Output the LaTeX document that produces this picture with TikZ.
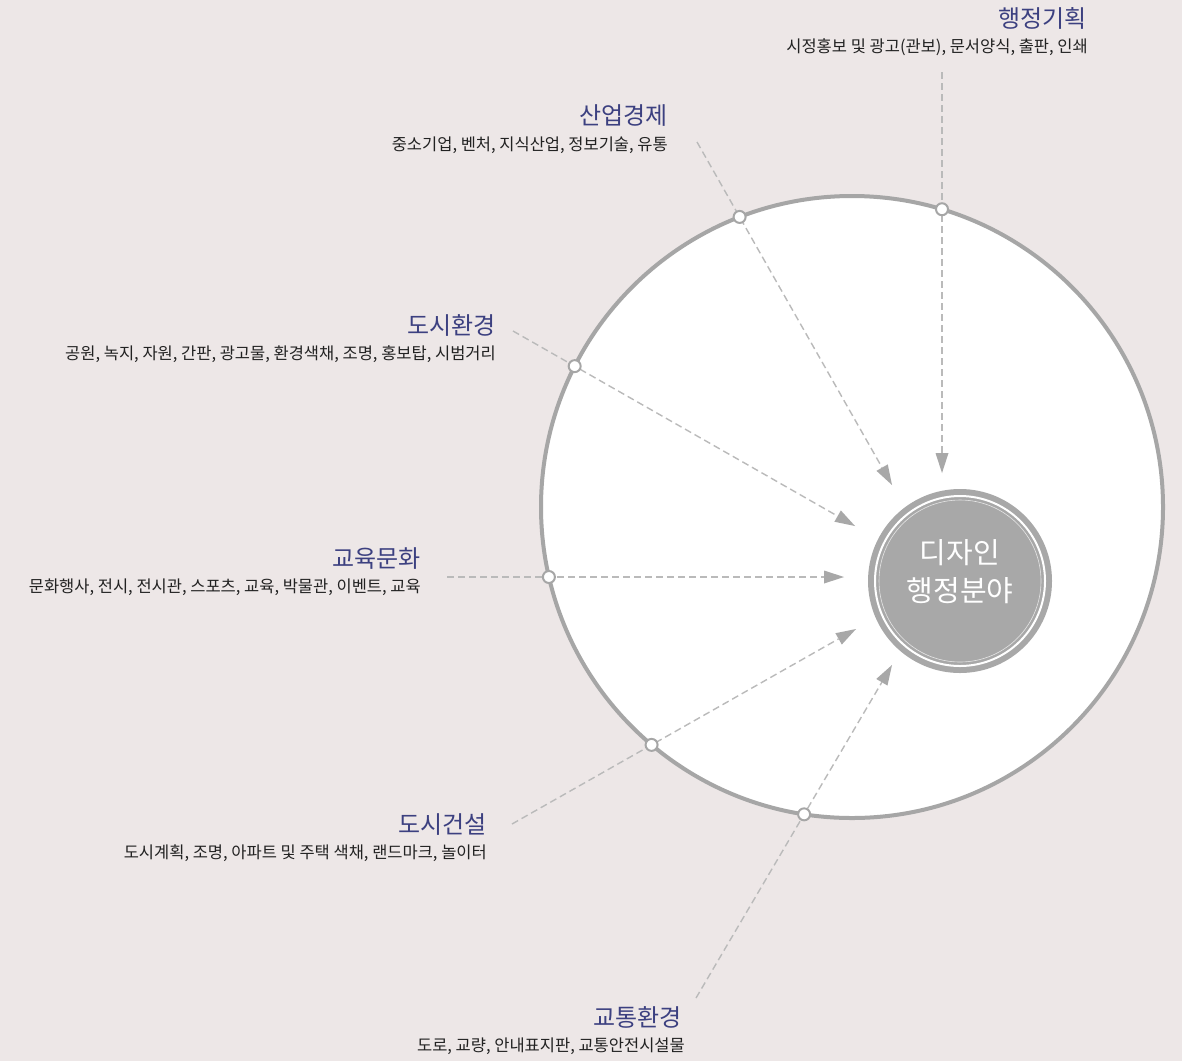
\documentclass[tikz,border=0pt]{standalone}
\usepackage{fontspec}
\setmainfont{Noto Sans CJK KR}
\newfontfamily\kr{Noto Sans CJK KR}
\usetikzlibrary{arrows.meta,intersections}
\definecolor{bg}{HTML}{EDE7E7}
\definecolor{ringgray}{HTML}{A6A6A6}
\definecolor{dashgray}{HTML}{BABABA}
\definecolor{hubgray}{HTML}{A8A8A8}
\definecolor{titleblue}{HTML}{3C4080}
\definecolor{subtxt}{HTML}{222222}
\tikzset{
  ttl/.style={anchor=east,inner sep=0pt,text=titleblue,font=\kr\fontsize{24}{24}\selectfont},
  sub/.style={anchor=east,inner sep=0pt,text=subtxt,font=\kr\fontsize{16.5}{16.5}\selectfont},
  link/.style={draw=dashgray,line width=1.4pt,dash pattern=on 7pt off 4pt,
    -{Triangle[length=20pt,width=13pt,color=hubgray,fill=hubgray,line width=0pt]}},
  dot/.style={circle,draw=ringgray,fill=white,line width=2pt,minimum size=12pt,inner sep=0pt},
  hubtxt/.style={inner sep=0pt,text=white,font=\kr\fontsize{29}{29}\selectfont},
}
\begin{document}
\begin{tikzpicture}[x=1pt,y=-1pt]
\useasboundingbox (0,0) rectangle (1182,1061);
\fill[bg] (0,0) rectangle (1182,1061);
% big circle
\draw[ringgray,line width=4pt,fill=white,name path=big] (852,507) circle[radius=311pt];
% labels
\node[ttl] (h1) at (1087,18) {행정기획};
\node[sub] (b1) at (1088,47) {시정홍보 및 광고(관보), 문서양식, 출판, 인쇄};
\node[ttl] (h2) at (668,116) {산업경제};
\node[sub] (b2) at (668,145) {중소기업, 벤처, 지식산업, 정보기술, 유통};
\node[ttl] (h3) at (496,325) {도시환경};
\node[sub] (b3) at (496,354) {공원, 녹지, 자원, 간판, 광고물, 환경색채, 조명, 홍보탑, 시범거리};
\node[ttl] (h4) at (421,558) {교육문화};
\node[sub] (b4) at (421,587) {문화행사, 전시, 전시관, 스포츠, 교육, 박물관, 이벤트, 교육};
\node[ttl] (h5) at (487,825) {도시건설};
\node[sub] (b5) at (487,853) {도시계획, 조명, 아파트 및 주택 색채, 랜드마크, 놀이터};
\node[ttl] (h6) at (682,1017) {교통환경};
\node[sub] (b6) at (685,1046) {도로, 교량, 안내표지판, 교통안전시설물};
% connector ends
\coordinate (s1) at (942,72);  \coordinate (t1) at (942,473);
\coordinate (s2) at (697,142); \coordinate (t2) at (892,485);
\coordinate (s3) at (513,331); \coordinate (t3) at (855,526);
\coordinate (s4) at (447,577); \coordinate (t4) at (844,577);
\coordinate (s5) at (512,824); \coordinate (t5) at (856,629);
\coordinate (s6) at (696,998); \coordinate (t6) at (892,665);
\foreach \i in {1,...,6}{
  \path[name path=l\i] (s\i) -- (t\i);
  \path[name intersections={of=big and l\i,by=d\i}];
  \draw[link] (s\i) -- (t\i);
  \node[dot] (p\i) at (d\i) {};
}
% hub
\fill[hubgray] (960,581) circle[radius=92pt];
\draw[white,line width=2pt] (960,581) circle[radius=85pt];
\draw[white!70!hubgray,line width=0.6pt] (960,581) circle[radius=81pt];
\node[hubtxt] (hub1) at (960,553) {디자인};
\node[hubtxt] (hub2) at (960,591) {행정분야};
\end{tikzpicture}
\end{document}
